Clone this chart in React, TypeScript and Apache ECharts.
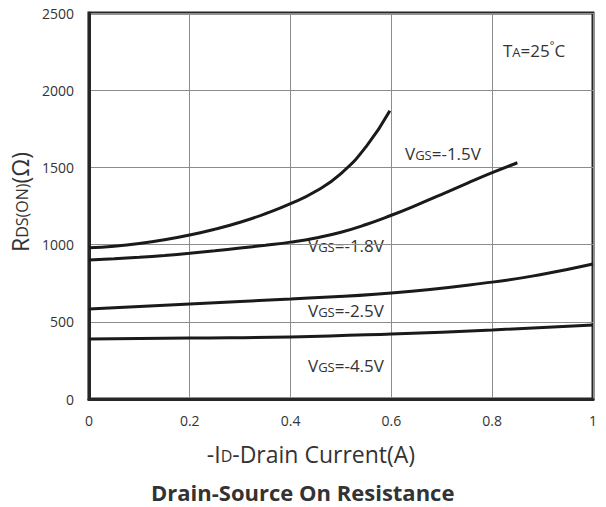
import React, { useEffect, useRef } from "react";
import * as echarts from "echarts";

const xTicks = [0, 0.2, 0.4, 0.6, 0.8, 1];
const yTicks = [0, 500, 1000, 1500, 2000, 2500];

// VGS = -1.5V (steep curve ending near 0.6 A)
const curve15: [number, number][] = [
  [0, 980], [0.05, 990], [0.1, 1007], [0.15, 1031], [0.2, 1062], [0.25, 1100],
  [0.3, 1145], [0.35, 1200], [0.4, 1265], [0.45, 1345], [0.5, 1460],
  [0.55, 1635], [0.597, 1867],
];
// VGS = -1.8V
const curve18: [number, number][] = [
  [0, 900], [0.05, 908], [0.1, 918], [0.15, 930], [0.2, 944], [0.25, 960],
  [0.3, 978], [0.35, 996], [0.4, 1016], [0.45, 1043], [0.5, 1080], [0.55, 1130],
  [0.6, 1190], [0.65, 1256], [0.7, 1326], [0.75, 1397], [0.8, 1466], [0.85, 1530],
];
// VGS = -2.5V
const curve25: [number, number][] = [
  [0, 583], [0.2, 615], [0.4, 648], [0.6, 686], [0.8, 757], [0.9, 808], [1.0, 874],
];
// VGS = -4.5V
const curve45: [number, number][] = [
  [0, 389], [0.2, 395], [0.4, 402], [0.6, 421], [0.8, 447], [1.0, 479],
];

const FONT = "'Open Sans', 'Noto Sans', sans-serif";
const TXT = "#333333";

function vgsLabel(v: string) {
  return {
    text: `{a|V}{b|GS}{a|=${v}V}`,
    rich: {
      a: { fontSize: 17, fontFamily: FONT, fill: TXT, verticalAlign: "bottom", lineHeight: 20 },
      b: { fontSize: 13, fontFamily: FONT, fill: TXT, verticalAlign: "bottom", lineHeight: 20, padding: [0, 0, 1, 0] },
    },
  };
}

export default function App() {
  const ref = useRef<HTMLDivElement>(null);
  useEffect(() => {
    if (!ref.current) return;
    const chart = echarts.init(ref.current, undefined, { renderer: "svg" });
    const lineSeries = (name: string, data: [number, number][]) => ({
      name,
      type: "line",
      data,
      smooth: 0.5,
      symbol: "none",
      lineStyle: { color: "#1a1a1a", width: 3 },
    });
    chart.setOption({
      animation: false,
      backgroundColor: "#ffffff",
      title: {
        text: "Drain-Source On Resistance",
        left: 146,
        top: 476,
        textStyle: { fontFamily: FONT, fontWeight: "bold", fontSize: 22, color: TXT },
      },
      grid: {
        left: 85, right: 13, top: 13, bottom: 108,
        show: true, borderColor: "#262626", borderWidth: 3, backgroundColor: "transparent",
      },
      xAxis: {
        type: "value",
        min: xTicks[0], max: xTicks[xTicks.length - 1], interval: 0.2,
        axisLine: { show: true, lineStyle: { color: "#262626", width: 3 } },
        axisTick: { show: false },
        splitLine: { show: true, lineStyle: { color: "#8c8c8c", width: 1 } },
        axisLabel: { fontFamily: FONT, fontSize: 14, color: TXT, margin: 14, formatter: (v: number) => (xTicks.includes(v) ? String(v) : "") },
        name: "{a|-I}{b|D}{a|-Drain Current(A)}",
        nameLocation: "middle",
        nameGap: 38,
        nameTextStyle: {
          padding: [0, 60, 0, 0],
          rich: {
            a: { fontSize: 23, fontFamily: FONT, color: TXT, verticalAlign: "bottom", lineHeight: 28 },
            b: { fontSize: 16, fontFamily: FONT, color: TXT, verticalAlign: "bottom", lineHeight: 28, padding: [0, 0, 1, 0] },
          },
        },
      },
      yAxis: {
        type: "value",
        min: yTicks[0], max: yTicks[yTicks.length - 1], interval: 500,
        axisLine: { show: true, lineStyle: { color: "#262626", width: 3 } },
        axisTick: { show: false },
        splitLine: { show: true, lineStyle: { color: "#8c8c8c", width: 1 } },
        axisLabel: { fontFamily: FONT, fontSize: 14, color: TXT, margin: 15, formatter: (v: number) => String(v) },
        name: "{a|R}{b|DS(ON)}{a|(Ω)}",
        nameLocation: "middle",
        nameGap: 52,
        nameRotate: 90,
        nameTextStyle: {
          padding: [0, 0, 0, 8],
          rich: {
            a: { fontSize: 23, fontFamily: FONT, color: TXT, verticalAlign: "bottom", lineHeight: 28 },
            b: { fontSize: 16, fontFamily: FONT, color: TXT, verticalAlign: "bottom", lineHeight: 28, padding: [0, 0, 1, 0] },
          },
        },
      },
      graphic: [
        { type: "text", left: 503, top: 39, style: { text: "{a|T}{b|A}{a|=25}{c|°}{a|C}", rich: {
          a: { fontSize: 17, fontFamily: FONT, fill: TXT, verticalAlign: "bottom", lineHeight: 20 },
          b: { fontSize: 13, fontFamily: FONT, fill: TXT, verticalAlign: "bottom", lineHeight: 20, padding: [0, 0, 1, 0] },
          c: { fontSize: 11, fontFamily: FONT, fill: TXT, verticalAlign: "top", lineHeight: 20 },
        } } },
        { type: "text", left: 405, top: 145, style: vgsLabel("-1.5") },
        { type: "text", left: 308, top: 237, style: vgsLabel("-1.8") },
        { type: "text", left: 308, top: 302, style: vgsLabel("-2.5") },
        { type: "text", left: 308, top: 357, style: vgsLabel("-4.5") },
      ],
      series: [
        lineSeries("VGS=-1.5V", curve15),
        lineSeries("VGS=-1.8V", curve18),
        lineSeries("VGS=-2.5V", curve25),
        lineSeries("VGS=-4.5V", curve45),
      ],
    });
    return () => chart.dispose();
  }, []);
  return <div ref={ref} style={{ width: 606, height: 507, position: "absolute", left: 0, top: 0 }} />;
}
